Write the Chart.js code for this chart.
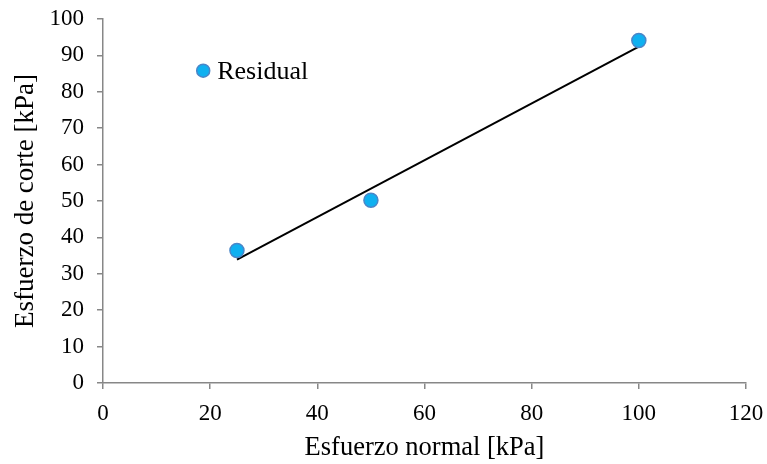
<!DOCTYPE html>
<html>
<head>
<meta charset="utf-8">
<script src="https://cdn.jsdelivr.net/npm/chart.js@4/dist/chart.umd.min.js"></script>
<style>
  html, body { margin: 0; padding: 0; background: #fff; }
  #wrap { width: 767px; height: 464px; }
</style>
</head>
<body>
<div id="wrap"><canvas id="c" width="767" height="464"></canvas></div>
<script>
// Residual shear tests: normal stress vs shear stress
const normalStress = [25, 50, 100];
const shearStress = [36.4, 50.2, 94.1];
// Linear trend line end points
const trendX = [25, 100];
const trendY = [33.9, 92.4];
const seriesName = 'Residual';
const xTitle = 'Esfuerzo normal [kPa]';
const yTitle = 'Esfuerzo de corte [kPa]';

const FONT = "'Liberation Serif', 'Times New Roman', serif";
const axisGray = '#878787';
const pointFill = '#0fb0f0';
const pointEdge = '#4a86c8';

// Legend drawn inside the plot, near the upper left
const innerLegend = {
  id: 'innerLegend',
  afterDraw(chart) {
    const { ctx, scales } = chart;
    const x = scales.x.getPixelForValue(18.7);
    const y = scales.y.getPixelForValue(85.8);
    ctx.save();
    ctx.beginPath();
    ctx.arc(x, y, 6.5, 0, Math.PI * 2);
    ctx.fillStyle = pointFill;
    ctx.fill();
    ctx.lineWidth = 1.5;
    ctx.strokeStyle = pointEdge;
    ctx.stroke();
    ctx.fillStyle = '#000';
    ctx.font = '26px ' + FONT;
    ctx.textBaseline = 'middle';
    ctx.textAlign = 'left';
    ctx.fillText(seriesName, x + 14, y + 1);
    ctx.restore();
  }
};

new Chart(document.getElementById('c'), {
  type: 'scatter',
  data: {
    datasets: [
      {
        label: seriesName,
        data: normalStress.map((x, i) => ({ x, y: shearStress[i] })),
        backgroundColor: pointFill,
        borderColor: pointEdge,
        borderWidth: 1.5,
        pointRadius: 7,
        order: 1
      },
      {
        label: 'Tendencia',
        type: 'line',
        data: trendX.map((x, i) => ({ x, y: trendY[i] })),
        borderColor: '#000',
        borderWidth: 2,
        pointRadius: 0,
        fill: false,
        order: 2
      }
    ]
  },
  plugins: [innerLegend],
  options: {
    responsive: false,
    animation: false,
    events: [],
    layout: { padding: { top: 19, right: 21, left: 6, bottom: 0 } },
    plugins: { legend: { display: false }, tooltip: { enabled: false } },
    scales: {
      x: {
        type: 'linear',
        min: 0, max: 120,
        ticks: { stepSize: 20, color: '#000', font: { family: FONT, size: 23 }, padding: 11, maxRotation: 0 },
        grid: { drawOnChartArea: false, drawTicks: true, tickLength: 6, color: axisGray, lineWidth: 1.5 },
        border: { color: axisGray, width: 1.5 },
        title: { display: true, text: xTitle, color: '#000', font: { family: FONT, size: 26.5 }, padding: { top: 15, bottom: 0 } },
        afterFit(s) { s.height = 81; s.paddingLeft = 0; s.paddingRight = 0; }
      },
      y: {
        type: 'linear',
        min: 0, max: 100,
        ticks: { stepSize: 10, color: '#000', font: { family: FONT, size: 23 }, padding: 13 },
        grid: { drawOnChartArea: false, drawTicks: true, tickLength: 6, color: axisGray, lineWidth: 1.5 },
        border: { color: axisGray, width: 1.5 },
        title: { display: true, text: yTitle, color: '#000', font: { family: FONT, size: 27 }, padding: { bottom: 6 } },
        afterFit(s) { s.width = 97; s.paddingTop = 0; s.paddingBottom = 0; }
      }
    }
  }
});
</script>
</body>
</html>
